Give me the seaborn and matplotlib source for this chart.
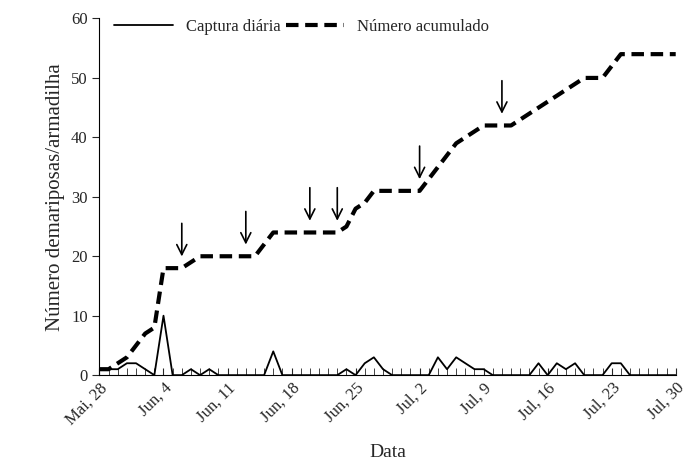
import numpy as np
import seaborn as sns
import matplotlib.pyplot as plt
from matplotlib.ticker import MultipleLocator

daily = [1, 1, 1, 2, 2, 1, 0, 10, 0, 0, 1, 0, 1, 0, 0, 0, 0, 0, 0, 4,
         0, 0, 0, 0, 0, 0, 0, 1, 0, 2, 3, 1, 0, 0, 0, 0, 0, 3, 1, 3,
         2, 1, 1, 0, 0, 0, 0, 0, 2, 0, 2, 1, 2, 0, 0, 0, 2, 2, 0, 0,
         0, 0, 0, 0]
cumul = [1, 1, 2, 3, 5, 7, 8, 18, 18, 18, 19, 20, 20, 20, 20, 20, 20, 20, 22, 24,
         24, 24, 24, 24, 24, 24, 24, 25, 28, 29, 31, 31, 31, 31, 31, 31, 33, 35, 37, 39,
         40, 41, 42, 42, 42, 42, 43, 44, 45, 46, 47, 48, 49, 50, 50, 50, 52, 54, 54, 54,
         54, 54, 54, 54]
days = np.arange(len(daily))
tick_labels = ["Mai, 28", "Jun, 4", "Jun, 11", "Jun, 18", "Jun, 25", "Jul, 2", "Jul, 9",
               "Jul, 16", "Jul, 23", "Jul, 30"]
arrow_days = [9, 16, 23, 26, 35, 44]

sns.set_style("white")
plt.rcParams['font.family'] = ['Liberation Serif', 'DejaVu Serif']

fig, ax = plt.subplots(figsize=(6.86, 4.62), dpi=100)
sns.lineplot(x=days, y=daily, ax=ax, color="black", linewidth=1.3, label="Captura diária")
sns.lineplot(x=days, y=cumul, ax=ax, color="black", linewidth=3, linestyle=(0, (3, 1.6)),
             label="Número acumulado")

for d in arrow_days:
    ax.annotate("", xy=(d, cumul[d] + 1.5), xytext=(d, cumul[d] + 8),
                arrowprops=dict(arrowstyle="->", color="black", lw=1.2, mutation_scale=18))

ax.set_xlim(0, 63)
ax.set_ylim(0, 60)
ax.set_xticks(np.arange(0, 64, 7))
ax.set_xticklabels(tick_labels, rotation=45, ha="right", rotation_mode="anchor", fontsize=12)
ax.xaxis.set_minor_locator(MultipleLocator(1))
ax.tick_params(axis="x", which="both", direction="in", length=5, bottom=True)
ax.tick_params(axis="y", direction="out", length=5, left=True, labelsize=12)
ax.set_yticks(range(0, 61, 10))
ax.set_xlabel("Data", fontsize=14, labelpad=12)
ax.set_ylabel("Número demariposas/armadilha", fontsize=15)
for s in ["top", "right"]:
    ax.spines[s].set_visible(False)
for s in ["left", "bottom"]:
    ax.spines[s].set_color("black")
leg = ax.legend(loc="upper left", ncol=2, frameon=False, fontsize=12, handlelength=3.5,
                columnspacing=0.3, bbox_to_anchor=(0.0, 1.04))
fig.subplots_adjust(left=0.145, right=0.985, top=0.96, bottom=0.188)
fig.savefig("out.png", dpi=100)
